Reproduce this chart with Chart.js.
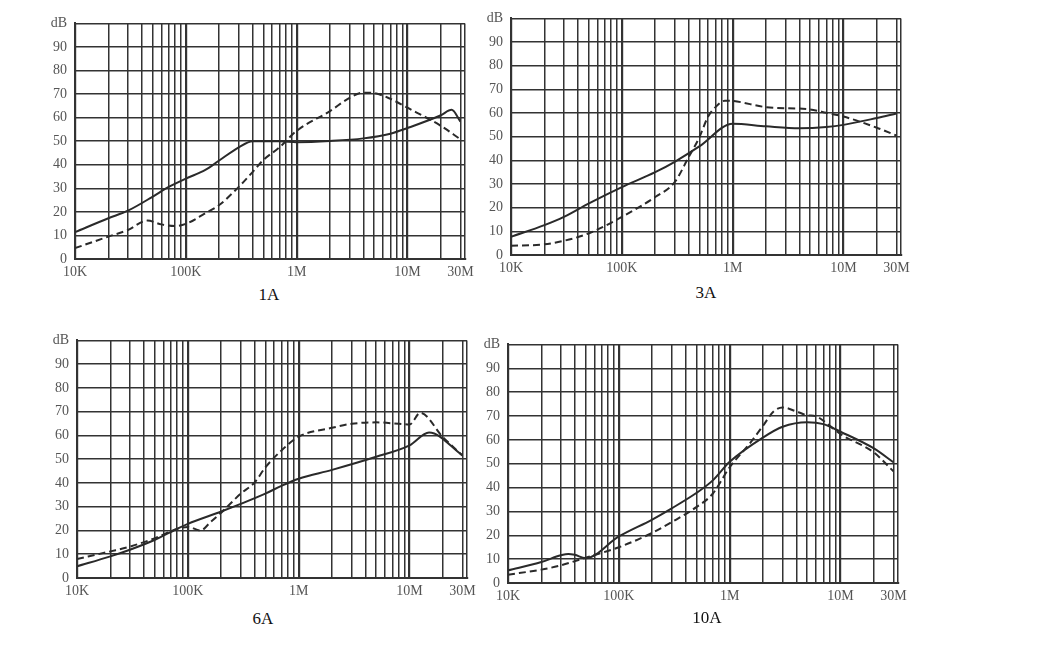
<!DOCTYPE html>
<html>
<head>
<meta charset="utf-8">
<script src="https://cdn.jsdelivr.net/npm/chart.js@4.4.0/dist/chart.umd.min.js"></script>
<style>
  body { margin: 0; background: #fff; width: 1039px; height: 660px; position: relative; overflow: hidden; }
  .box { position: absolute; }
  .cap { position: absolute; font-family: "Liberation Serif", serif; font-size: 17px; color: #111; transform: translate(-50%, -50%); }
</style>
</head>
<body>
<div class="box" style="left:20px;top:7px"><canvas id="c1" width="465" height="276"></canvas></div>
<div class="box" style="left:456px;top:2px"><canvas id="c2" width="465" height="277"></canvas></div>
<div class="box" style="left:22px;top:324px"><canvas id="c3" width="465" height="278"></canvas></div>
<div class="box" style="left:453px;top:328px"><canvas id="c4" width="465" height="279"></canvas></div>
<div class="cap" style="left:269px;top:295px">1A</div>
<div class="cap" style="left:706px;top:293px">3A</div>
<div class="cap" style="left:263px;top:619px">6A</div>
<div class="cap" style="left:707px;top:618px">10A</div>
<script>
// tick labels on the frequency axis
const tickValues = [1e4, 1e5, 1e6, 1e7, 3e7];
const tickLabels = ['10K', '100K', '1M', '10M', '30M'];

// 1A
const f1Solid = [1e4, 2e4, 3e4, 5e4, 7e4, 1e5, 1.5e5, 2e5, 3e5, 4e5, 7e5, 1e6, 2e6, 4e6, 7e6, 1e7, 2e7, 2.5e7, 3e7];
const db1Solid = [11.4, 17.3, 20.5, 26.4, 30.6, 34.1, 37.8, 41.8, 47.4, 50, 50, 49.6, 50.1, 51.2, 53.2, 55.6, 61, 63.3, 58.3];
const f1Dash = [1e4, 2e4, 3e4, 4.5e4, 6e4, 8e4, 1e5, 1.5e5, 2e5, 3e5, 4e5, 5e5, 7e5, 1e6, 2e6, 3e6, 4e6, 5e6, 7e6, 1e7, 2e7, 3e7];
const db1Dash = [4.6, 9.5, 12.3, 16.3, 14.7, 14, 14.9, 19.4, 22.9, 30.6, 36.9, 42, 47.4, 54.4, 62.8, 68.4, 70.6, 70.4, 68, 64.2, 56.5, 50.8];

// 3A
const f2Solid = [1e4, 2e4, 3e4, 5e4, 1e5, 2e5, 3e5, 5e5, 1e6, 2e6, 4e6, 7e6, 1e7, 2e7, 3e7];
const db2Solid = [7.7, 12.6, 16.1, 21.7, 28.7, 35, 39.4, 45.9, 55.5, 54.4, 53.6, 54.1, 55, 57.9, 59.8];
const f2Dash = [1e4, 2e4, 3e4, 5e4, 1e5, 2e5, 3e5, 4e5, 5e5, 6e5, 7e5, 8.5e5, 1e6, 2e6, 5e6, 7e6, 1e7, 2e7, 3e7];
const db2Dash = [3.9, 4.5, 6, 9.1, 16.1, 24.5, 30.8, 41.3, 49.7, 58.5, 62.5, 65.2, 65.1, 62.5, 61.5, 60.1, 58.5, 53.8, 50.5];

// 6A
const f3Solid = [1e4, 2e4, 3e4, 5e4, 8e4, 1e5, 2e5, 3e5, 5e5, 7e5, 1e6, 2e6, 5e6, 1e7, 1.5e7, 3e7];
const db3Solid = [4.9, 9.1, 11.9, 16, 20.7, 22.8, 28, 31.2, 35.5, 38.8, 41.8, 45.5, 51, 55.8, 61.2, 51.6];
const f3Dash = [1e4, 2e4, 3e4, 5e4, 8e4, 1e5, 1.3e5, 1.6e5, 2e5, 3e5, 4e5, 5e5, 7e5, 1e6, 2e6, 3e6, 5e6, 8e6, 1e7, 1.25e7, 2e7, 3e7];
const db3Dash = [8, 11.2, 13.2, 16.7, 20.6, 21.5, 20, 23.5, 27.5, 35.5, 40.2, 46.5, 53.7, 59.5, 63.2, 64.9, 65.5, 64.9, 64.6, 69.5, 59.3, 51.6];

// 10A
const f4Solid = [1e4, 2e4, 3e4, 3.5e4, 4e4, 5e4, 1e5, 2e5, 3e5, 5e5, 7e5, 1e6, 2e6, 3e6, 5e6, 7e6, 1e7, 2e7, 3e7];
const db4Solid = [5.3, 8.8, 11.6, 12.2, 11.8, 10.4, 19.5, 26.6, 31.3, 37.7, 42.9, 50.8, 61, 65.5, 67.4, 66.6, 63.4, 56.4, 50.6];
const f4Dash = [1e4, 2e4, 3e4, 5e4, 1e5, 2e5, 3e5, 5e5, 7e5, 1e6, 1.5e6, 2e6, 2.5e6, 3e6, 4e6, 5e6, 6e6, 7e6, 1e7, 2e7, 3e7];
const db4Dash = [3.5, 5.6, 7.4, 10.6, 15, 21, 25.5, 31.8, 37.3, 48.5, 58.2, 65.9, 72, 73.6, 71.9, 70.3, 69.9, 68, 62.4, 54.7, 46.8];

const xMin = 1e4, xMax = 3.3e7;
const gridFreqs = [];
for (let e = 4; e <= 7; e++) {
  for (let d = 1; d <= 9; d++) {
    const v = d * Math.pow(10, e);
    if (v <= 3e7) gridFreqs.push(v);
  }
}
gridFreqs.push(xMax);

const ink = '#333';
const tickFont = { family: 'Liberation Serif', size: 14 };

function pts(xs, ys) {
  return xs.map((x, i) => ({ x: x, y: ys[i] }));
}

function makeChart(id, fs, ds, fd, dd) {
  new Chart(document.getElementById(id), {
    type: 'line',
    data: {
      datasets: [{
        data: pts(fs, ds),
        borderColor: '#2a2a2a',
        borderWidth: 2,
        pointRadius: 0,
        cubicInterpolationMode: 'monotone'
      }, {
        data: pts(fd, dd),
        borderColor: '#2a2a2a',
        borderWidth: 2,
        borderDash: [7, 4],
        pointRadius: 0,
        cubicInterpolationMode: 'monotone'
      }]
    },
    options: {
      responsive: false,
      animation: false,
      layout: { padding: { top: 15, right: 20, left: 0, bottom: 0 } },
      plugins: { legend: { display: false }, tooltip: { enabled: false } },
      scales: {
        x: {
          type: 'logarithmic',
          min: xMin,
          max: xMax,
          afterBuildTicks: s => { s.ticks = gridFreqs.map(v => ({ value: v })); },
          afterFit: s => { s.height = 24; },
          ticks: {
            autoSkip: false,
            maxRotation: 0,
            padding: 5,
            color: '#555',
            font: tickFont,
            callback: v => {
              const k = tickValues.indexOf(v);
              return k >= 0 ? tickLabels[k] : '';
            }
          },
          grid: {
            drawTicks: false,
            color: ink,
            lineWidth: c => (tickValues.indexOf(c.tick && c.tick.value) >= 0 && c.tick.value !== 3e7) ? 2.2 : 1.5
          },
          border: { color: ink, width: 2 }
        },
        y: {
          min: 0,
          max: 100,
          afterFit: s => { s.width = 55; },
          ticks: {
            stepSize: 10,
            padding: 8,
            color: '#555',
            font: tickFont,
            callback: v => v === 100 ? 'dB' : v
          },
          grid: { drawTicks: false, color: ink, lineWidth: 1.5 },
          border: { color: ink, width: 2 }
        }
      }
    }
  });
}

makeChart('c1', f1Solid, db1Solid, f1Dash, db1Dash);
makeChart('c2', f2Solid, db2Solid, f2Dash, db2Dash);
makeChart('c3', f3Solid, db3Solid, f3Dash, db3Dash);
makeChart('c4', f4Solid, db4Solid, f4Dash, db4Dash);
</script>
</body>
</html>
